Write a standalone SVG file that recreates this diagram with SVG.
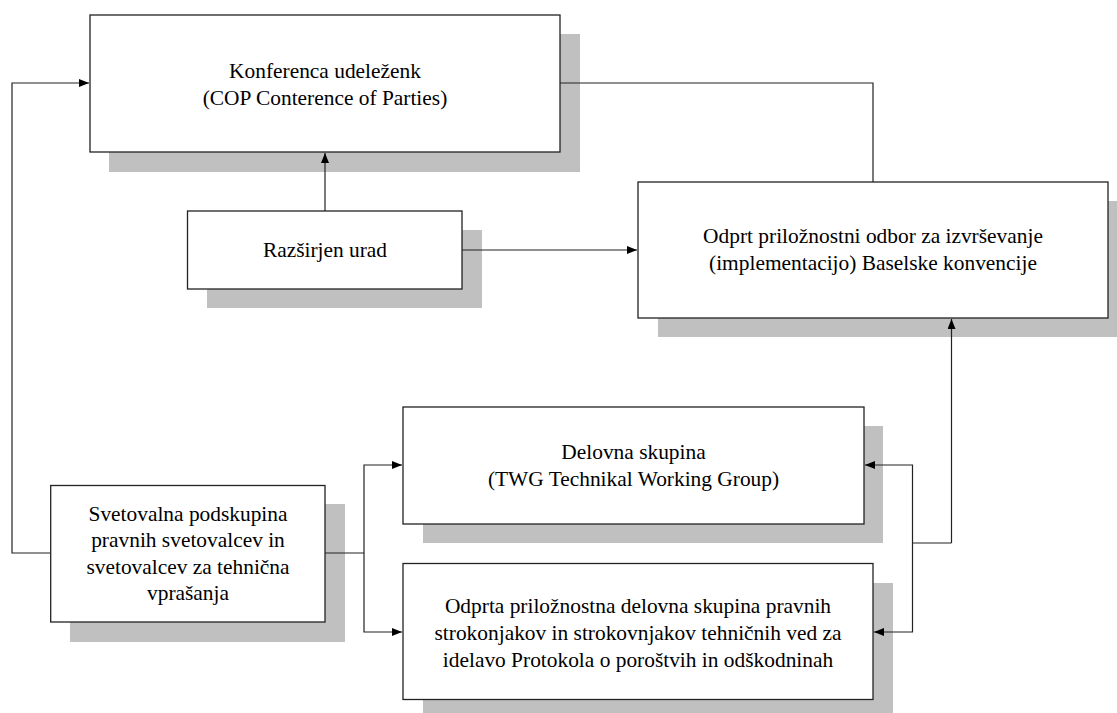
<svg xmlns="http://www.w3.org/2000/svg" width="1117" height="713" viewBox="0 0 1117 713">
  <style>
    .shadow { fill: #c0c0c0; }
    .box { fill: #ffffff; stroke: #222222; stroke-width: 1.3; }
    .label { font-family: "Liberation Serif", "Times New Roman", serif; font-size: 21.4px; fill: #000000; text-anchor: middle; }
    .wire { fill: none; stroke: #222222; stroke-width: 1.2; }
  </style>
  <defs>
    <marker id="arrow" viewBox="0 0 10 8" refX="10" refY="4" markerWidth="10" markerHeight="8" markerUnits="userSpaceOnUse" orient="auto">
      <path d="M0,0 L10,4 L0,8 Z" fill="#000000"/>
    </marker>
  </defs>
  <rect width="1117" height="713" fill="#ffffff"/>

  <!-- drop shadows, offset 20px right and down -->
  <g id="shadows">
    <rect class="shadow" x="109" y="34" width="471" height="138"/>
    <rect class="shadow" x="207" y="230" width="275" height="78"/>
    <rect class="shadow" x="658" y="201" width="470" height="136"/>
    <rect class="shadow" x="70" y="504" width="275" height="138"/>
    <rect class="shadow" x="423" y="426" width="460" height="117"/>
    <rect class="shadow" x="423" y="583" width="470" height="140"/>
  </g>

  <!-- connectors -->
  <g id="connectors">
    <path class="wire" d="M50.7,553 H12 V83 H89" marker-end="url(#arrow)"/>
    <path class="wire" d="M560,83 H873 V182"/>
    <path class="wire" d="M325,211 V153" marker-end="url(#arrow)"/>
    <path class="wire" d="M462,250 H637" marker-end="url(#arrow)"/>
    <path class="wire" d="M325,553 H364"/>
    <path class="wire" d="M364,553 V465 H402" marker-end="url(#arrow)"/>
    <path class="wire" d="M364,553 V632 H402" marker-end="url(#arrow)"/>
    <path class="wire" d="M951.5,543 H912.5"/>
    <path class="wire" d="M912.5,543 V465 H865" marker-end="url(#arrow)"/>
    <path class="wire" d="M912.5,543 V632 H874" marker-end="url(#arrow)"/>
    <path class="wire" d="M951.5,543 V319" marker-end="url(#arrow)"/>
  </g>

  <g id="node-cop">
    <rect class="box" x="90" y="15" width="470" height="137"/>
    <text class="label" x="325" y="78">Konferenca udeleženk</text>
    <text class="label" x="325" y="105">(COP Conterence of Parties)</text>
  </g>

  <g id="node-urad">
    <rect class="box" x="187.5" y="211" width="274.5" height="78"/>
    <text class="label" x="325" y="257">Razširjen urad</text>
  </g>

  <g id="node-odbor">
    <rect class="box" x="638" y="182" width="470" height="136"/>
    <text class="label" x="873" y="243">Odprt priložnostni odbor za izvrševanje</text>
    <text class="label" x="873" y="270">(implementacijo) Baselske konvencije</text>
  </g>

  <g id="node-svetovalna">
    <rect class="box" x="50.7" y="485.5" width="274.3" height="136.5"/>
    <text class="label" x="188" y="521">Svetovalna podskupina</text>
    <text class="label" x="188" y="547">pravnih svetovalcev in</text>
    <text class="label" x="188" y="574">svetovalcev za tehnična</text>
    <text class="label" x="188" y="600">vprašanja</text>
  </g>

  <g id="node-twg">
    <rect class="box" x="403" y="407" width="461" height="117"/>
    <text class="label" x="633.5" y="459">Delovna skupina</text>
    <text class="label" x="633.5" y="486">(TWG Technikal Working Group)</text>
  </g>

  <g id="node-protokol">
    <rect class="box" x="403" y="563.5" width="470" height="136"/>
    <text class="label" x="638" y="613">Odprta priložnostna delovna skupina pravnih</text>
    <text class="label" x="638" y="640">strokonjakov in strokovnjakov tehničnih ved za</text>
    <text class="label" x="638" y="667">idelavo Protokola o poroštvih in odškodninah</text>
  </g>
</svg>
